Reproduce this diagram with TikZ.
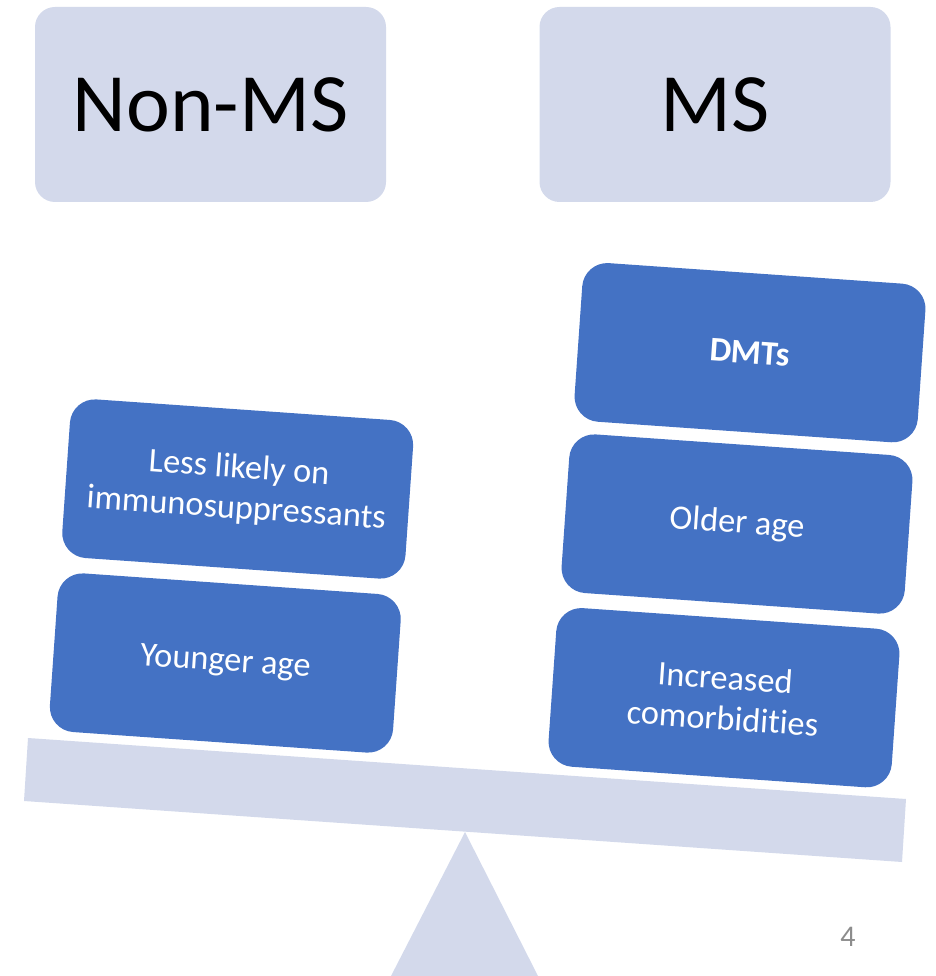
\documentclass[tikz,border=0pt]{standalone}
\usepackage{fontspec}
\setmainfont{Carlito}[RawFeature=-liga]
\definecolor{lav}{HTML}{D3D9EB}
\definecolor{blu}{HTML}{4472C4}
\definecolor{pgnum}{HTML}{8C8C8C}
\begin{document}
\begin{tikzpicture}[x=1pt,y=-1pt,
  header/.style={fill=lav, rounded corners=20pt, minimum width=351pt, minimum height=195pt,
    inner sep=0pt, font=\fontsize{83}{90}\selectfont},
  block/.style={fill=blu, rounded corners=25pt, minimum width=344pt, minimum height=159pt,
    inner sep=0pt, align=center, text=white, rotate=-4, font=\fontsize{34.4}{40.5}\selectfont}]
\useasboundingbox (0,0) rectangle (935,976);
\node[header] (nonms) at (210.5,104.5) {Non-MS};
\node[header] (ms) at (715,104.5) {MS};
\fill[lav] (465,832) -- (538,976) -- (391,976) -- cycle;
\fill[lav] (28,738) -- (906,799) -- (902,862) -- (24,801) -- cycle;
\node[block] (less) at (237.7,489) {Less likely on\\immunosuppressants};
\node[block] (young) at (225.3,663) {Younger age};
\node[block, font=\fontsize{34.4}{40.5}\selectfont\bfseries] (dmt) at (750,352.7) {DMTs};
\node[block] (old) at (737,524) {Older age};
\node[block] (incr) at (724,697.7) {Increased\\comorbidities};
\node[text=pgnum, font=\fontsize{30}{36}\selectfont, inner sep=0pt] (pg) at (848,937) {4};
\end{tikzpicture}
\end{document}
